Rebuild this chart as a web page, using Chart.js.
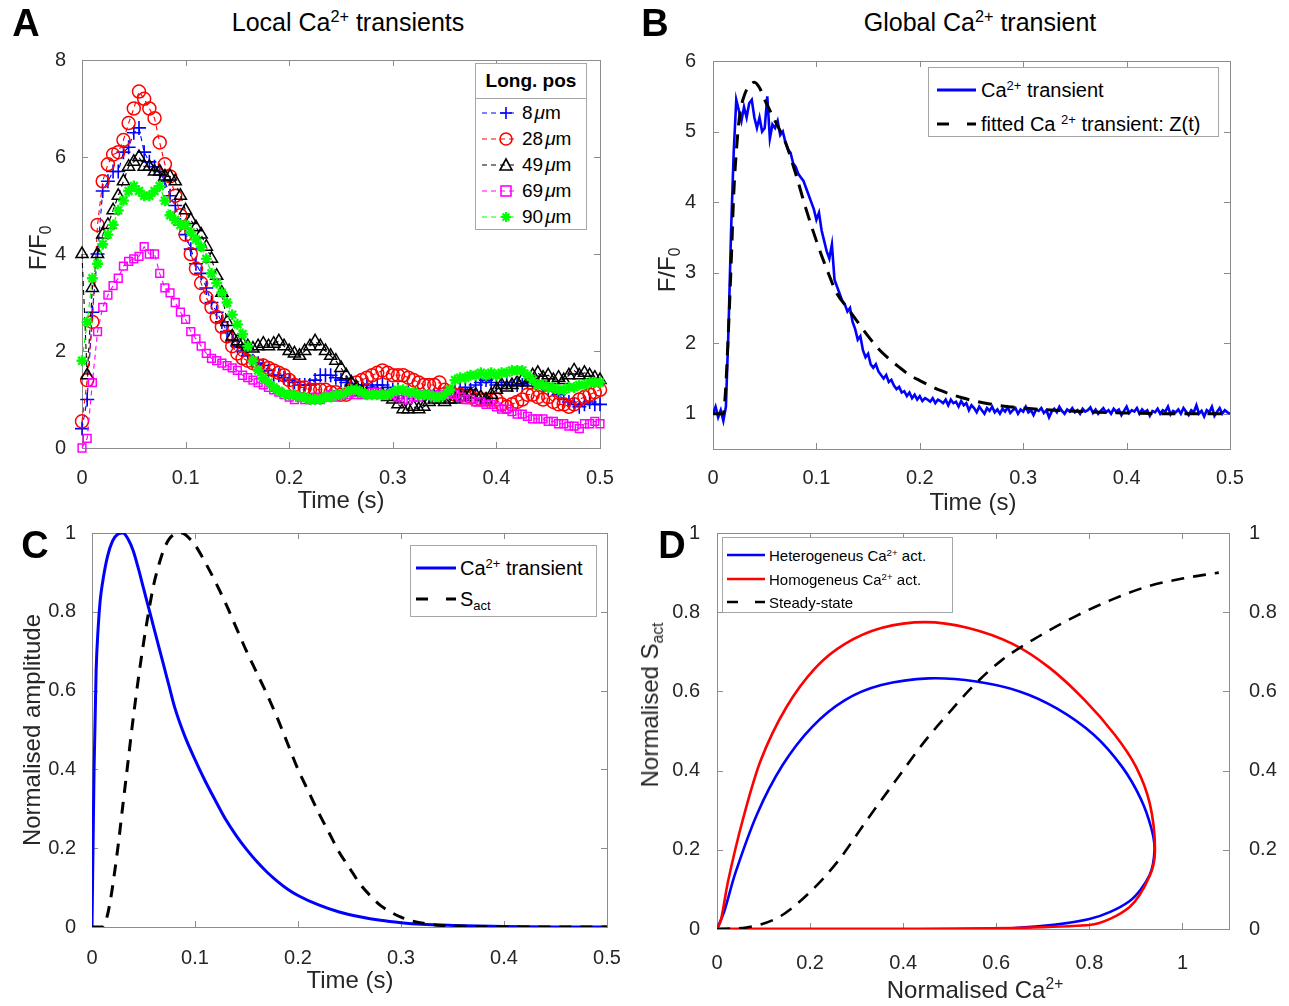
<!DOCTYPE html>
<html>
<head>
<meta charset="utf-8">
<script src="https://cdn.jsdelivr.net/npm/chart.js@4.4.1/dist/chart.umd.min.js"></script>
<style>
body { margin: 0; background: #fff; }
#fig { position: relative; width: 1289px; height: 1006px; font-family: "Liberation Sans", Arial, Helvetica, sans-serif; color: #262626; overflow: hidden; }
canvas { position: absolute; }
.t { position: absolute; white-space: nowrap; transform: translate(-50%, -50%); }
.rot { transform: translate(-50%, -50%) rotate(-90deg); }
.letter { font-weight: bold; font-size: 38px; color: #000; }
.title { font-size: 25px; color: #000; }
.axt { font-size: 24px; }
sup { font-size: 0.65em; vertical-align: 0.55em; line-height: 0; }
sub { font-size: 0.65em; vertical-align: -0.3em; line-height: 0; }
.leg { position: absolute; background: #fff; border: 1px solid #a6a6a6; box-sizing: border-box; color: #000; }
.leg .row { position: absolute; left: 0; height: 24px; display: flex; align-items: center; white-space: nowrap; }
.leg .row svg { flex: none; }
.mu { font-style: italic; margin-left: 2px; }
</style>
</head>
<body>
<div id="fig">
  <canvas id="chartA" width="640" height="460" style="left:0;top:40px"></canvas>
  <canvas id="chartB" width="640" height="460" style="left:640px;top:40px"></canvas>
  <canvas id="chartC" width="640" height="500" style="left:0;top:500px"></canvas>
  <canvas id="chartD" width="649" height="500" style="left:640px;top:500px"></canvas>

  <div class="t letter" style="left:26px;top:23px">A</div>
  <div class="t letter" style="left:655px;top:23px">B</div>
  <div class="t letter" style="left:35px;top:545px">C</div>
  <div class="t letter" style="left:672px;top:545px">D</div>

  <div class="t title" style="left:348px;top:22px">Local Ca<sup>2+</sup> transients</div>
  <div class="t title" style="left:980px;top:22px">Global Ca<sup>2+</sup> transient</div>

  <div class="t axt" style="left:341px;top:500px">Time (s)</div>
  <div class="t axt rot" style="left:38px;top:248px">F/F<sub>0</sub></div>
  <div class="t axt" style="left:973px;top:502px">Time (s)</div>
  <div class="t axt rot" style="left:667px;top:270px">F/F<sub>0</sub></div>
  <div class="t axt" style="left:350px;top:980px">Time (s)</div>
  <div class="t axt rot" style="left:32px;top:730px">Normalised amplitude</div>
  <div class="t axt" style="left:975px;top:990px">Normalised Ca<sup>2+</sup></div>
  <div class="t axt rot" style="left:650px;top:705px">Normalised S<sub>act</sub></div>

  <!-- legend A -->
  <div class="leg" style="left:475px;top:63px;width:112px;height:167px;font-size:19px">
    <div style="position:absolute;left:0;top:0;width:110px;height:34px;border-bottom:1px solid #a6a6a6;font-weight:bold;text-align:center;line-height:34px">Long. pos</div>
    <div class="row" style="top:37px">
      <svg width="40" height="18" style="margin-left:6px"><line x1="0" y1="9" x2="34" y2="9" stroke="#0000ff" stroke-dasharray="5 4"/><path d="M18 9H30M24 3V15" stroke="#0000ff" stroke-width="1.6" fill="none"/></svg>
      <span>8<span class="mu">μ</span>m</span>
    </div>
    <div class="row" style="top:63px">
      <svg width="40" height="18" style="margin-left:6px"><line x1="0" y1="9" x2="34" y2="9" stroke="#ff0000" stroke-dasharray="5 4"/><circle cx="24" cy="9" r="6" stroke="#ff0000" stroke-width="1.6" fill="none"/></svg>
      <span>28<span class="mu">μ</span>m</span>
    </div>
    <div class="row" style="top:89px">
      <svg width="40" height="18" style="margin-left:6px"><line x1="0" y1="9" x2="34" y2="9" stroke="#000" stroke-dasharray="5 4"/><path d="M24 3L30 14H18Z" stroke="#000" stroke-width="1.6" fill="none"/></svg>
      <span>49<span class="mu">μ</span>m</span>
    </div>
    <div class="row" style="top:115px">
      <svg width="40" height="18" style="margin-left:6px"><line x1="0" y1="9" x2="34" y2="9" stroke="#ff00ff" stroke-dasharray="5 4"/><rect x="19" y="4" width="10" height="10" stroke="#ff00ff" stroke-width="1.6" fill="none"/></svg>
      <span>69<span class="mu">μ</span>m</span>
    </div>
    <div class="row" style="top:141px">
      <svg width="40" height="18" style="margin-left:6px"><line x1="0" y1="9" x2="34" y2="9" stroke="#00ff00" stroke-dasharray="5 4"/><path d="M19 9H29M24 4V14M20.5 5.5L27.5 12.5M27.5 5.5L20.5 12.5" stroke="#00ff00" stroke-width="2.2" fill="none"/></svg>
      <span>90<span class="mu">μ</span>m</span>
    </div>
  </div>

  <!-- legend B -->
  <div class="leg" style="left:928px;top:67px;width:291px;height:70px;font-size:20px">
    <div class="row" style="top:10px">
      <svg width="44" height="18" style="margin-left:8px"><line x1="0" y1="9" x2="39" y2="9" stroke="#0000ff" stroke-width="3"/></svg>
      <span>Ca<sup>2+</sup> transient</span>
    </div>
    <div class="row" style="top:44px">
      <svg width="44" height="18" style="margin-left:8px"><line x1="0" y1="9" x2="39" y2="9" stroke="#000" stroke-width="3" stroke-dasharray="12 18"/></svg>
      <span>fitted Ca <sup>2+</sup> transient: Z(t)</span>
    </div>
  </div>

  <!-- legend C -->
  <div class="leg" style="left:410px;top:545px;width:187px;height:72px;font-size:20px">
    <div class="row" style="top:10px">
      <svg width="44" height="18" style="margin-left:5px"><line x1="0" y1="9" x2="40" y2="9" stroke="#0000ff" stroke-width="3"/></svg>
      <span>Ca<sup>2+</sup> transient</span>
    </div>
    <div class="row" style="top:41px">
      <svg width="44" height="18" style="margin-left:5px"><line x1="0" y1="9" x2="40" y2="9" stroke="#000" stroke-width="3" stroke-dasharray="12 18"/></svg>
      <span>S<sub>act</sub></span>
    </div>
  </div>

  <!-- legend D -->
  <div class="leg" style="left:722px;top:537px;width:231px;height:76px;font-size:15px">
    <div class="row" style="top:5px">
      <svg width="42" height="18" style="margin-left:4px"><line x1="0" y1="9" x2="38" y2="9" stroke="#0000ff" stroke-width="2.5"/></svg>
      <span>Heterogeneus Ca<sup>2+</sup> act.</span>
    </div>
    <div class="row" style="top:29px">
      <svg width="42" height="18" style="margin-left:4px"><line x1="0" y1="9" x2="38" y2="9" stroke="#ff0000" stroke-width="2.5"/></svg>
      <span>Homogeneus Ca<sup>2+</sup> act.</span>
    </div>
    <div class="row" style="top:52px">
      <svg width="42" height="18" style="margin-left:4px"><line x1="0" y1="9" x2="38" y2="9" stroke="#000" stroke-width="2.5" stroke-dasharray="11 17"/></svg>
      <span>Steady-state</span>
    </div>
  </div>
</div>

<script>
// sample times (s)
const steps = (n, dt) => Array.from({ length: n }, (_, i) => +(i * dt).toFixed(4));

// ---- A: local transients, F/F0 per longitudinal position ----
const timeA = steps(101, 0.005);
const pos8 = [
  0.4, 1.0, 2.8, 4.0, 5.3, 5.5, 5.7, 5.7, 6.1, 6.2,
  6.5, 6.6, 6.1, 5.9, 5.8, 5.7, 5.5, 5.2, 5.0, 4.6,
  4.4, 4.1, 3.8, 3.6, 3.3, 3.0, 2.8, 2.6, 2.4, 2.2,
  2.1, 2.0, 1.9, 1.8, 1.75, 1.7, 1.6, 1.5, 1.5, 1.45,
  1.4, 1.35, 1.3, 1.3, 1.3, 1.4, 1.5, 1.5, 1.5, 1.45,
  1.4, 1.35, 1.3, 1.25, 1.3, 1.3, 1.25, 1.3, 1.3, 1.25,
  1.2, 1.2, 1.15, 1.15, 1.1, 1.1, 1.1, 1.05, 1.1, 1.1,
  1.1, 1.15, 1.2, 1.2, 1.25, 1.2, 1.3, 1.35, 1.4, 1.35,
  1.3, 1.3, 1.35, 1.3, 1.3, 1.3, 1.35, 1.35, 1.3, 1.3,
  1.2, 1.2, 1.1, 1.0, 0.95, 0.9, 0.85, 0.9, 0.95, 0.9,
  0.9
];
const pos28 = [
  0.55, 1.4, 2.6, 4.6, 5.5, 5.85, 6.05, 6.1, 6.35, 6.7,
  7.0, 7.35, 7.2, 7.0, 6.8, 6.3, 5.85, 5.6, 5.2, 4.8,
  4.4, 4.0, 3.7, 3.4, 3.1, 2.9, 2.7, 2.5, 2.3, 2.1,
  1.95, 1.85, 1.8, 1.75, 1.7, 1.7, 1.65, 1.6, 1.55, 1.5,
  1.4, 1.3, 1.25, 1.25, 1.2, 1.2, 1.2, 1.2, 1.15, 1.15,
  1.1, 1.1, 1.2, 1.35, 1.4, 1.45, 1.5, 1.55, 1.6, 1.55,
  1.5, 1.5, 1.5, 1.45, 1.4, 1.35, 1.3, 1.3, 1.3, 1.35,
  1.2, 1.15, 1.1, 1.1, 1.05, 1.05, 1.0, 1.0, 1.0, 1.0,
  1.0, 0.9, 0.85, 0.9, 0.95, 1.0, 1.1, 1.1, 1.05, 1.0,
  1.05, 0.95, 0.9, 0.9, 0.85, 0.9, 1.0, 1.05, 1.1, 1.15,
  1.2
];
const pos49 = [
  4.0, 1.5, 3.3, 4.0, 4.4, 4.6, 4.9, 5.2, 5.5, 5.8,
  5.9, 6.0, 5.8, 5.8, 5.7, 5.7, 5.6, 5.6, 5.5, 5.2,
  4.9, 4.7, 4.55, 4.4, 4.15, 3.9, 3.55, 3.2, 2.6, 2.3,
  2.2, 2.15, 2.1, 2.05, 2.1, 2.15, 2.1, 2.15, 2.2, 2.1,
  2.0, 1.95, 1.9, 2.0, 2.1, 2.2, 2.1, 2.0, 1.9, 1.8,
  1.65, 1.5, 1.35, 1.25, 1.15, 1.1, 1.1, 1.1, 1.1, 1.05,
  1.0, 0.9, 0.8, 0.8, 0.85, 0.8, 0.85, 0.95, 1.0, 1.0,
  0.95, 1.0, 1.0, 1.05, 1.05, 1.1, 1.1, 1.05, 1.0, 1.1,
  1.2, 1.3, 1.25, 1.3, 1.35, 1.4, 1.35, 1.5, 1.55, 1.45,
  1.5, 1.4, 1.45, 1.4, 1.5, 1.6, 1.5, 1.55, 1.5, 1.45,
  1.4
];
const pos69 = [
  0.0, 0.2, 1.35, 2.4, 2.9, 3.15, 3.35, 3.5, 3.75, 3.85,
  3.9, 3.95, 4.15, 4.0, 4.0, 3.6, 3.3, 3.2, 3.0, 2.8,
  2.65, 2.4, 2.25, 2.1, 1.95, 1.85, 1.8, 1.75, 1.7, 1.65,
  1.6, 1.5, 1.45, 1.4, 1.35, 1.3, 1.25, 1.2, 1.15, 1.1,
  1.05, 1.0, 1.05, 1.0, 1.0, 1.05, 1.0, 1.05, 1.1, 1.05,
  1.1, 1.1, 1.15, 1.1, 1.1, 1.1, 1.15, 1.15, 1.1, 1.1,
  1.1, 1.05, 1.0, 1.0, 1.05, 1.05, 1.1, 1.1, 1.05, 1.1,
  1.1, 1.15, 1.1, 1.05, 1.0, 1.0, 0.95, 0.95, 0.9, 0.9,
  0.85, 0.8, 0.8, 0.75, 0.7, 0.7, 0.65, 0.6, 0.6, 0.6,
  0.55, 0.55, 0.5, 0.5, 0.45, 0.45, 0.4, 0.5, 0.5, 0.55,
  0.5
];
const pos90 = [
  1.8, 2.6, 3.5, 3.8, 4.2, 4.4, 4.6, 4.9, 5.1, 5.3,
  5.4, 5.3, 5.2, 5.2, 5.3, 5.4, 5.1, 4.8, 4.7, 4.6,
  4.6, 4.45, 4.3, 4.15, 3.9, 3.6, 3.4, 3.2, 3.0, 2.75,
  2.55, 2.35, 2.1, 1.8, 1.6, 1.45, 1.35, 1.25, 1.18, 1.12,
  1.1, 1.1, 1.05, 1.05, 1.0, 1.0, 1.0, 1.05, 1.05, 1.1,
  1.1, 1.15, 1.2, 1.2, 1.15, 1.1, 1.1, 1.1, 1.1, 1.1,
  1.15, 1.2, 1.2, 1.15, 1.15, 1.1, 1.1, 1.1, 1.05, 1.05,
  1.1, 1.2, 1.4, 1.45, 1.45, 1.5, 1.5, 1.55, 1.5, 1.55,
  1.5, 1.55, 1.55, 1.6, 1.6, 1.6, 1.5, 1.4, 1.3, 1.3,
  1.25, 1.25, 1.2, 1.2, 1.25, 1.25, 1.3, 1.3, 1.35, 1.35,
  1.35
];

// ---- B: global transient ----
const timeB = steps(201, 0.0025);
const caB = [
  1.0, 1.1, 0.95, 1.05, 0.9, 1.1, 2.2, 3.6, 4.7, 5.45,
  5.3, 5.15, 5.35, 5.2, 5.4, 5.45, 5.2, 5.05, 5.2, 5.0,
  5.05, 5.5, 4.9, 5.1, 5.05, 5.15, 4.95, 5.0, 4.85, 4.75,
  4.7, 4.55, 4.5, 4.4, 4.35, 4.3, 4.2, 4.1, 4.0, 3.9,
  3.75, 3.85, 3.6, 3.45, 3.3, 3.2, 3.4, 2.9, 2.8, 2.7,
  2.6, 2.55, 2.45, 2.5, 2.3, 2.2, 2.05, 2.1, 1.9, 1.8,
  1.85, 1.7, 1.65, 1.7, 1.6, 1.55, 1.5, 1.55, 1.45, 1.48,
  1.4, 1.35, 1.38, 1.3, 1.32, 1.25, 1.3, 1.22, 1.27, 1.2,
  1.25, 1.18, 1.22, 1.2, 1.17, 1.22, 1.15, 1.2, 1.18, 1.15,
  1.2, 1.12, 1.2, 1.15, 1.17, 1.1, 1.18, 1.12, 1.15, 1.05,
  1.12,
  1.08, 1.02, 1.1, 1.05, 1.0, 1.08, 1.04, 1.1, 1.02, 1.06,
  1.0, 1.07, 1.03, 1.09, 1.01, 1.05, 1.08, 1.0, 1.06, 1.03,
  1.1, 1.02, 1.05, 0.98, 1.06, 1.04, 1.08, 1.01, 1.05, 0.95,
  1.03, 1.07, 1.02, 1.1, 1.04, 1.0, 1.06, 1.03, 1.08, 1.02,
  1.05, 1.0, 1.07, 1.03, 1.05, 1.09, 1.01, 1.06, 1.0, 1.04,
  1.08, 1.02, 1.05, 1.0, 1.07, 1.03, 1.06, 0.98, 1.04, 1.1,
  1.01, 1.05, 1.03, 1.08, 1.0, 1.06, 1.02, 1.05, 0.97, 1.04,
  1.02, 1.07, 1.0, 1.05, 1.03, 1.1, 0.99, 1.04, 1.02, 1.06,
  1.0, 1.08, 1.03, 0.98, 1.05, 1.02, 1.12, 1.0, 1.04, 0.96,
  1.05, 1.02, 1.1, 0.97, 1.03, 1.08, 1.0, 1.05, 1.02, 1.0
];
const fitTimeB = [0, 0.01, 0.012, 0.015, 0.018, 0.02, 0.023, 0.026, 0.03, 0.035, 0.04, 0.045, 0.05, 0.055, 0.06, 0.07, 0.08, 0.09, 0.1, 0.11, 0.12, 0.13, 0.14, 0.15, 0.16, 0.17, 0.18, 0.19, 0.2, 0.22, 0.24, 0.26, 0.28, 0.3, 0.33, 0.36, 0.4, 0.45, 0.5];
const fitB = [1.0, 1.0, 1.3, 2.2, 3.3, 4.1, 4.8, 5.25, 5.5, 5.65, 5.7, 5.62, 5.45, 5.3, 5.15, 4.85, 4.4, 3.9, 3.45, 3.05, 2.7, 2.5, 2.3, 2.1, 1.92, 1.78, 1.66, 1.55, 1.47, 1.33, 1.23, 1.16, 1.11, 1.08, 1.05, 1.03, 1.01, 1.0, 1.0];

// ---- C: normalised Ca transient and S_act ----
const timeCaC = [0, 0.002, 0.004, 0.006, 0.008, 0.01, 0.015, 0.02, 0.025, 0.03, 0.035, 0.04, 0.045, 0.05, 0.055, 0.06, 0.065, 0.07, 0.075, 0.08, 0.09, 0.1, 0.11, 0.12, 0.13, 0.14, 0.15, 0.16, 0.17, 0.18, 0.19, 0.2, 0.22, 0.24, 0.26, 0.28, 0.3, 0.32, 0.35, 0.4, 0.45, 0.5];
const caC = [0, 0.4, 0.65, 0.76, 0.83, 0.87, 0.94, 0.98, 0.997, 1.0, 0.985, 0.955, 0.91, 0.86, 0.81, 0.76, 0.71, 0.66, 0.61, 0.56, 0.485, 0.425, 0.37, 0.32, 0.272, 0.232, 0.197, 0.166, 0.139, 0.116, 0.096, 0.08, 0.056, 0.038, 0.026, 0.017, 0.011, 0.007, 0.004, 0.001, 0, 0];
const timeSact = [0, 0.01, 0.014, 0.018, 0.022, 0.026, 0.03, 0.035, 0.04, 0.045, 0.05, 0.055, 0.06, 0.065, 0.07, 0.075, 0.08, 0.085, 0.09, 0.095, 0.1, 0.11, 0.12, 0.13, 0.14, 0.15, 0.16, 0.17, 0.18, 0.19, 0.2, 0.21, 0.22, 0.23, 0.24, 0.25, 0.26, 0.27, 0.28, 0.29, 0.3, 0.31, 0.32, 0.34, 0.36, 0.4, 0.45, 0.5];
const sAct = [0, 0, 0.02, 0.07, 0.14, 0.22, 0.31, 0.42, 0.53, 0.63, 0.72, 0.8, 0.87, 0.92, 0.96, 0.985, 0.997, 1.0, 0.997, 0.985, 0.97, 0.925, 0.875, 0.82, 0.76, 0.70, 0.645, 0.59, 0.53, 0.465, 0.40, 0.345, 0.29, 0.24, 0.19, 0.15, 0.11, 0.08, 0.055, 0.038, 0.025, 0.016, 0.01, 0.004, 0.002, 0, 0, 0];

// ---- D: S_act vs Ca loops ----
const heteroCa = [0, 0.2, 0.4, 0.635, 0.8, 0.886, 0.929, 0.94, 0.933, 0.91, 0.87, 0.81, 0.73, 0.65, 0.557, 0.455, 0.353, 0.275, 0.204, 0.141, 0.086, 0.039, 0.016, 0];
const heteroS = [0, 0, 0, 0.002, 0.025, 0.07, 0.135, 0.2, 0.255, 0.33, 0.41, 0.49, 0.557, 0.6, 0.625, 0.633, 0.616, 0.578, 0.51, 0.414, 0.29, 0.14, 0.046, 0];
const homoCa = [0, 0.4, 0.8, 0.886, 0.93, 0.941, 0.93, 0.9, 0.855, 0.79, 0.714, 0.635, 0.54, 0.447, 0.353, 0.275, 0.212, 0.149, 0.094, 0.055, 0.024, 0.008, 0];
const homoS = [0, 0, 0.01, 0.055, 0.135, 0.2, 0.316, 0.41, 0.49, 0.578, 0.66, 0.72, 0.76, 0.775, 0.76, 0.72, 0.66, 0.56, 0.426, 0.274, 0.122, 0.02, 0];
const steadyCa = [0, 0.063, 0.133, 0.196, 0.259, 0.322, 0.384, 0.447, 0.494, 0.549, 0.612, 0.69, 0.769, 0.847, 0.925, 1.0, 1.078];
const steadyS = [0, 0.004, 0.03, 0.089, 0.17, 0.275, 0.375, 0.475, 0.54, 0.612, 0.679, 0.738, 0.789, 0.831, 0.865, 0.885, 0.9];

// tick values
const timeTicks = [0, 0.1, 0.2, 0.3, 0.4, 0.5];
const ticksYA = [0, 2, 4, 6, 8];
const ticksYB = [1, 2, 3, 4, 5, 6];
const unitTicks = [0, 0.2, 0.4, 0.6, 0.8, 1];

const fontFam = '"Liberation Sans", Arial, Helvetica, sans-serif';
const tickColor = '#262626';
const frameColor = '#8c8c8c';

const pts = (xs, ys) => xs.map((x, i) => ({ x: x, y: ys[i] }));

// matlab style box with inward ticks
const matlabBox = {
  id: 'matlabBox',
  beforeDatasetsDraw(chart) {
    const { ctx, chartArea: a, scales } = chart;
    ctx.save();
    ctx.strokeStyle = frameColor;
    ctx.lineWidth = 1;
    ctx.strokeRect(Math.round(a.left) + 0.5, Math.round(a.top) + 0.5, Math.round(a.right - a.left), Math.round(a.bottom - a.top));
    ctx.beginPath();
    scales.x.ticks.forEach(t => {
      const px = Math.round(scales.x.getPixelForValue(t.value)) + 0.5;
      ctx.moveTo(px, a.bottom); ctx.lineTo(px, a.bottom - 6);
      ctx.moveTo(px, a.top); ctx.lineTo(px, a.top + 6);
    });
    scales.y.ticks.forEach(t => {
      const py = Math.round(scales.y.getPixelForValue(t.value)) + 0.5;
      ctx.moveTo(a.left, py); ctx.lineTo(a.left + 6, py);
      ctx.moveTo(a.right, py); ctx.lineTo(a.right - 6, py);
    });
    ctx.stroke();
    ctx.restore();
  }
};

function axis(min, max, ticks, size, pad, extra) {
  return Object.assign({
    type: 'linear',
    min: min,
    max: max,
    grid: { display: false },
    border: { display: false },
    ticks: {
      color: tickColor,
      font: { family: fontFam, size: 20 },
      padding: pad,
      autoSkip: false,
      maxRotation: 0,
      callback: v => String(v)
    },
    afterBuildTicks: s => { s.ticks = ticks.map(v => ({ value: v })); },
    afterFit: s => { if (s.isHorizontal()) s.height = size; else s.width = size; }
  }, extra || {});
}

function baseOptions(padding, scales) {
  return {
    responsive: false,
    animation: false,
    devicePixelRatio: 1,
    events: [],
    layout: { padding: padding },
    plugins: { legend: { display: false }, tooltip: { enabled: false } },
    scales: scales
  };
}

function markerSet(xs, ys, color, style, radius, width) {
  return {
    data: pts(xs, ys),
    borderColor: color,
    borderWidth: 1.1,
    borderDash: [5, 4],
    pointStyle: style,
    pointRadius: radius,
    pointBorderWidth: width,
    pointBorderColor: color,
    pointBackgroundColor: 'rgba(0,0,0,0)',
    fill: false,
    tension: 0,
    clip: 10
  };
}

new Chart(document.getElementById('chartA'), {
  type: 'line',
  data: {
    datasets: [
      markerSet(timeA, pos90, '#00ff00', 'star', 5.5, 2.4),
      markerSet(timeA, pos69, '#ff00ff', 'rect', 5.5, 1.5),
      markerSet(timeA, pos49, '#000000', 'triangle', 7, 1.5),
      markerSet(timeA, pos28, '#ff0000', 'circle', 6.5, 1.5),
      markerSet(timeA, pos8, '#0000ff', 'cross', 7, 1.6)
    ]
  },
  options: baseOptions({ top: 14, right: 40, left: 0, bottom: 0 }, {
    x: axis(0, 0.5, timeTicks, 52, 10, { position: 'bottom' }),
    y: axis(0, 8, ticksYA, 82, 8, { position: 'left' })
  }),
  plugins: [matlabBox]
});

new Chart(document.getElementById('chartB'), {
  type: 'line',
  data: {
    datasets: [
      {
        data: pts(fitTimeB, fitB),
        borderColor: '#000000',
        borderWidth: 3,
        borderDash: [14, 9],
        pointRadius: 0,
        cubicInterpolationMode: 'monotone',
        fill: false
      },
      {
        data: pts(timeB, caB),
        borderColor: '#0000ff',
        borderWidth: 2.6,
        pointRadius: 0,
        tension: 0,
        fill: false
      }
    ]
  },
  options: baseOptions({ top: 17, right: 50, left: 0, bottom: 0 }, {
    x: axis(0, 0.5, timeTicks, 51, 9, { position: 'bottom' }),
    y: axis(0.5, 6, ticksYB, 73, 9, { position: 'left' })
  }),
  plugins: [matlabBox]
});

new Chart(document.getElementById('chartC'), {
  type: 'line',
  data: {
    datasets: [
      {
        data: pts(timeSact, sAct),
        borderColor: '#000000',
        borderWidth: 3,
        borderDash: [12, 9],
        pointRadius: 0,
        cubicInterpolationMode: 'monotone',
        fill: false
      },
      {
        data: pts(timeCaC, caC),
        borderColor: '#0000ff',
        borderWidth: 3,
        pointRadius: 0,
        cubicInterpolationMode: 'monotone',
        fill: false
      }
    ]
  },
  options: baseOptions({ top: 33, right: 33, left: 0, bottom: 0 }, {
    x: axis(0, 0.5, timeTicks, 73, 11, { position: 'bottom' }),
    y: axis(0, 1, unitTicks, 92, 8, { position: 'left' })
  }),
  plugins: [matlabBox]
});

new Chart(document.getElementById('chartD'), {
  type: 'scatter',
  data: {
    datasets: [
      {
        data: pts(steadyCa, steadyS),
        showLine: true,
        borderColor: '#000000',
        borderWidth: 2.6,
        borderDash: [13, 9],
        pointRadius: 0,
        cubicInterpolationMode: 'monotone',
        yAxisID: 'y'
      },
      {
        data: pts(homoCa, homoS),
        showLine: true,
        borderColor: '#ff0000',
        borderWidth: 2.6,
        pointRadius: 0,
        tension: 0.3,
        yAxisID: 'y'
      },
      {
        data: pts(heteroCa, heteroS),
        showLine: true,
        borderColor: '#0000ff',
        borderWidth: 2.6,
        pointRadius: 0,
        tension: 0.3,
        yAxisID: 'y'
      }
    ]
  },
  options: baseOptions({ top: 33, right: 0, left: 0, bottom: 0 }, {
    x: axis(0, 1.1, unitTicks, 71, 14, { position: 'bottom' }),
    y: axis(0, 1, unitTicks, 77, 9, { position: 'left' }),
    y2: axis(0, 1, unitTicks, 60, 12, { position: 'right' })
  }),
  plugins: [matlabBox]
});
</script>
</body>
</html>
